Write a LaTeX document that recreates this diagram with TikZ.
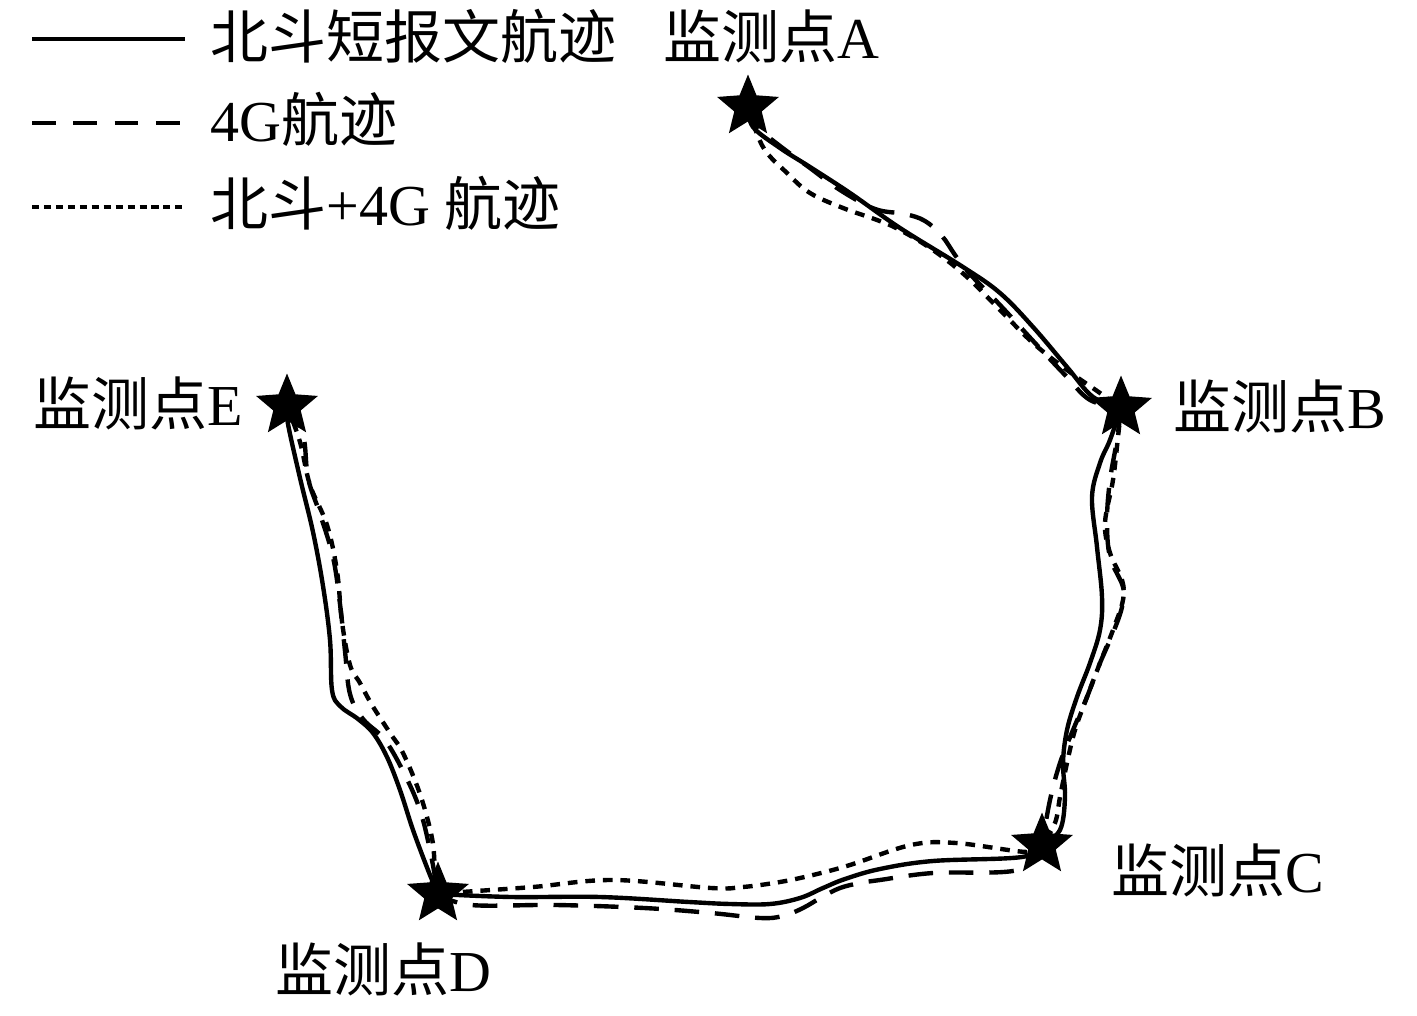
\documentclass[tikz,border=0pt]{standalone}
\usepackage{fontspec}
\setmainfont{Liberation Serif}
\newfontfamily\cjk{Noto Sans CJK SC}
\usetikzlibrary{shapes.geometric}
\tikzset{
  site/.style={
    star,
    star points=5,
    star point ratio=2.25,
    fill=black,
    inner sep=0pt,
    minimum size=1.3cm
  },
  tag/.style={
    font=\fontsize{33}{38}\selectfont,
    inner sep=0pt
  },
  legtext/.style={
    tag,
    anchor=west
  },
  bdtrack/.style={
    line width=2.5pt,
    line join=round
  },
  gtrack/.style={
    bdtrack,
    dash pattern=on 14pt off 9pt
  },
  mixtrack/.style={
    bdtrack,
    dash pattern=on 5.5pt off 4.5pt
  }
}

\begin{document}
\begin{tikzpicture}[x=0.02cm, y=-0.02cm]
\useasboundingbox (0,0) rectangle (1417,1016);

% Legend.
\coordinate (k1) at (32,39);
\coordinate (k2) at (32,123);
\coordinate (k3) at (32,207);
\node[legtext] (legbd) at (210,36) {\cjk 北斗短报文航迹};
\node[legtext] (legg) at (210,119) {4G{\cjk 航迹}};
\node[legtext] (legmix) at (210,203) {{\cjk 北斗}+4G {\cjk 航迹}};
\draw[bdtrack] (k1) -- ++(153,0);
\draw[gtrack, dash pattern=on 13.5pt off 10pt] (k2) -- ++(153,0);
\draw[mixtrack, dash pattern=on 4pt off 2.8pt] (k3) -- ++(153,0);

% Monitoring points.
\node[site] (A) at (748,107) {};
\node[site] (B) at (1121,408) {};
\node[site] (C) at (1042,845) {};
\node[site] (D) at (438,894) {};
\node[site] (E) at (287,406) {};

\node[tag] (labA) at (771,36) {{\cjk 监测点}A};
\node[tag] (labB) at (1280,406) {{\cjk 监测点}B};
\node[tag] (labC) at (1218,870) {{\cjk 监测点}C};
\node[tag] (labD) at (383,969) {{\cjk 监测点}D};
\node[tag] (labE) at (138,403) {{\cjk 监测点}E};

% A to B.
\draw[bdtrack] plot[smooth, tension=0.6] coordinates {(A.center) (753,127) (780,148) (810,167) (850,193) (900,228) (963,267) (1000,293) (1033,327) (1067,367) (1093,397) (B.center)};
\draw[gtrack] plot[smooth, tension=0.6] coordinates {(A.center) (755,125) (780,146) (810,168) (840,190) (875,209) (905,214) (925,221) (942,236) (955,255) (968,272) (1000,305) (1035,343) (1065,375) (1090,400) (B.center)};
\draw[mixtrack] plot[smooth, tension=0.6] coordinates {(A.center) (763,147) (787,173) (810,193) (843,208) (877,220) (900,230) (933,250) (967,277) (1000,310) (1033,343) (1067,370) (1100,393) (B.center)};

% B to C.
\draw[bdtrack] plot[smooth, tension=0.6] coordinates {(B.center) (1110,440) (1100,463) (1092,497) (1097,547) (1102,597) (1100,630) (1090,663) (1077,697) (1067,730) (1063,763) (1065,797) (1060,830) (C.center)};
\draw[gtrack] plot[smooth, tension=0.6] coordinates {(B.center) (1117,440) (1110,480) (1107,520) (1110,557) (1123,587) (1122,607) (1113,633) (1100,663) (1087,697) (1073,730) (1060,763) (1050,800) (C.center)};
\draw[mixtrack] plot[smooth, tension=0.6] coordinates {(B.center) (1118,437) (1113,480) (1105,523) (1110,553) (1122,580) (1123,600) (1113,630) (1100,663) (1087,697) (1075,730) (1067,763) (1060,797) (1055,823) (C.center)};

% C to D.
\draw[bdtrack] plot[smooth, tension=0.6] coordinates {(C.center) (1022,857) (933,861) (880,869) (845,879) (823,888) (800,898) (770,904) (730,904) (689,902) (600,897) (511,897) (D.center)};
\draw[gtrack] plot[smooth, tension=0.6] coordinates {(C.center) (1018,870) (933,873) (880,880) (860,883) (840,888) (822,897) (803,908) (783,916) (760,918) (711,913) (644,908) (556,905) (471,905) (D.center)};
\draw[mixtrack] plot[smooth, tension=0.6] coordinates {(C.center) (1027,852) (956,843) (911,845) (850,865) (813,875) (780,882) (743,887) (711,888) (613,880) (533,887) (462,892) (D.center)};

% E to D.
\draw[bdtrack] plot[smooth, tension=0.6] coordinates {(E.center) (288,424) (300,478) (313,532) (323,586) (330,640) (332,690) (340,706) (358,719) (373,733) (387,757) (400,790) (413,830) (428,870) (D.center)};
\draw[gtrack] plot[smooth, tension=0.6] coordinates {(E.center) (303,435) (308,478) (320,514) (333,557) (340,604) (345,651) (350,694) (363,719) (385,740) (405,775) (420,810) (430,850) (D.center)};
\draw[mixtrack] plot[smooth, tension=0.6] coordinates {(E.center) (300,442) (310,485) (327,525) (337,571) (342,622) (350,665) (360,683) (372,705) (390,733) (403,753) (420,794) (432,838) (435,870) (D.center)};

\end{tikzpicture}
\end{document}
